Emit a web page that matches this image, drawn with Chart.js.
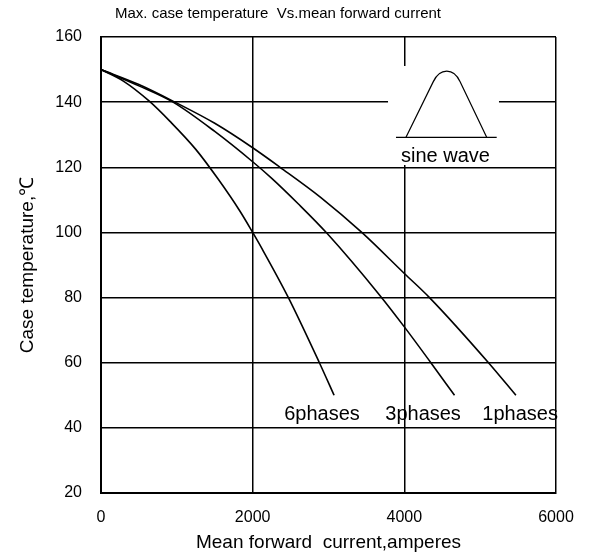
<!DOCTYPE html>
<html>
<head>
<meta charset="utf-8">
<script src="https://cdn.jsdelivr.net/npm/chart.js@4.4.1/dist/chart.umd.min.js"></script>
<style>
  html, body { margin: 0; padding: 0; background: #fff; }
  #wrap { width: 590px; height: 555px; }
</style>
</head>
<body>
<div id="wrap"><canvas id="myChart" width="590" height="555"></canvas></div>
<script>
// mean forward current (A) vs max case temperature (C)
var sixPhaseA = [0, 300, 637, 910, 1250, 1547, 1833, 2000, 2128, 2471, 2880, 3074];
var sixPhaseT = [150, 146.4, 140.3, 134.1, 125.5, 116.3, 106.5, 100, 94.8, 80, 60, 50];

var threePhaseA = [0, 500, 950, 1500, 2000, 2252, 2600, 2977, 3683, 4000, 4350, 4662];
var threePhaseT = [150, 145, 140, 131, 121.7, 116.6, 108.8, 99.8, 80.5, 71, 60, 50];

var onePhaseA = [0, 500, 975, 1500, 2000, 2362, 2900, 3439, 4000, 4332, 5110, 5471];
var onePhaseT = [150, 145.4, 140, 133.5, 126, 120, 110.7, 100, 87.4, 80, 60, 50];

var seriesNames = ["6phases", "3phases", "1phases"];
var xTicks = [0, 2000, 4000, 6000];
var yTicks = [20, 40, 60, 80, 100, 120, 140, 160];

// where the curve names sit (data units)
var nameSpots = [[2915, 44], [4247, 44], [5527, 44]];

var fontFam = "'Liberation Sans', Arial, sans-serif";

function toPoints(xs, ys) {
  var pts = [];
  for (let i = 0; i < xs.length; i++) {
    pts.push({ x: xs[i], y: ys[i] });
  }
  return pts;
}

function lineSet(name, xs, ys) {
  return {
    label: name,
    data: toPoints(xs, ys),
    showLine: true,
    borderColor: "#000",
    borderWidth: 1.6,
    pointRadius: 0,
    cubicInterpolationMode: "monotone",
    fill: false,
  };
}

// sine wave inset + curve names, drawn on the chart using the scales
var extras = {
  id: "extras",
  afterDatasetsDraw: function (c) {
    var ctx = c.ctx;
    var xs = c.scales.x;
    var ys = c.scales.y;
    var px = function (v) { return xs.getPixelForValue(v); };
    var py = function (v) { return ys.getPixelForValue(v); };

    ctx.save();
    // white patch behind the inset
    ctx.fillStyle = "#fff";
    ctx.fillRect(px(3785), py(151.1), px(5248) - px(3785), py(120.7) - py(151.1));

    ctx.strokeStyle = "#000";
    ctx.lineWidth = 1.2;
    ctx.beginPath();
    ctx.moveTo(px(3890), py(129.2));
    ctx.lineTo(px(5218), py(129.2));
    ctx.stroke();

    ctx.beginPath();
    ctx.moveTo(px(4022), py(129.2));
    ctx.lineTo(px(4382), py(146.3));
    ctx.bezierCurveTo(px(4470), py(150.6), px(4650), py(150.6), px(4734), py(146.3));
    ctx.lineTo(px(5086), py(129.2));
    ctx.stroke();

    ctx.fillStyle = "#000";
    ctx.font = "20px " + fontFam;
    ctx.textAlign = "center";
    ctx.textBaseline = "alphabetic";
    ctx.fillText("sine wave", px(4543), py(121.7));

    ctx.textBaseline = "middle";
    for (let i = 0; i < seriesNames.length; i++) {
      ctx.fillText(seriesNames[i], px(nameSpots[i][0]), py(nameSpots[i][1]));
    }
    ctx.restore();
  },
};

var chart = new Chart(document.getElementById("myChart").getContext("2d"), {
  type: "scatter",
  data: {
    datasets: [
      lineSet(seriesNames[0], sixPhaseA, sixPhaseT),
      lineSet(seriesNames[1], threePhaseA, threePhaseT),
      lineSet(seriesNames[2], onePhaseA, onePhaseT),
    ],
  },
  options: {
    responsive: false,
    animation: false,
    layout: { padding: { left: 0, right: 34, top: 0, bottom: 0 } },
    plugins: {
      legend: { display: false },
      tooltip: { enabled: false },
      title: {
        display: true,
        text: "Max. case temperature  Vs.mean forward current",
        color: "#000",
        font: { family: fontFam, size: 15, weight: "normal" },
        padding: { top: 5, bottom: 14 },
      },
    },
    scales: {
      x: {
        type: "linear",
        min: 0,
        max: 6000,
        afterBuildTicks: function (s) { s.ticks = xTicks.map(function (v) { return { value: v }; }); },
        afterFit: function (s) { s.height = 62; },
        ticks: {
          color: "#000", padding: 15, maxRotation: 0,
          font: { family: fontFam, size: 16 },
          callback: function (v) { return String(v); },
        },
        grid: { color: "#000", lineWidth: 1.5, drawTicks: false },
        border: { color: "#000", width: 2 },
        title: {
          display: true,
          text: "Mean forward  current,amperes",
          color: "#000",
          font: { family: fontFam, size: 19 },
          padding: { top: 0, bottom: 1 },
        },
      },
      y: {
        type: "linear",
        min: 20,
        max: 160,
        afterBuildTicks: function (s) { s.ticks = yTicks.map(function (v) { return { value: v }; }); },
        afterFit: function (s) { s.width = 101; },
        ticks: {
          color: "#000", padding: 19,
          font: { family: fontFam, size: 16 },
          callback: function (v) { return String(v); },
        },
        grid: { color: "#000", lineWidth: 1.5, drawTicks: false },
        border: { color: "#000", width: 2 },
        title: {
          display: true,
          text: "Case temperature,\u2103",
          color: "#000",
          font: { family: fontFam, size: 19 },
          padding: { top: 16, bottom: 0 },
        },
      },
    },
  },
  plugins: [extras],
});
</script>
</body>
</html>
